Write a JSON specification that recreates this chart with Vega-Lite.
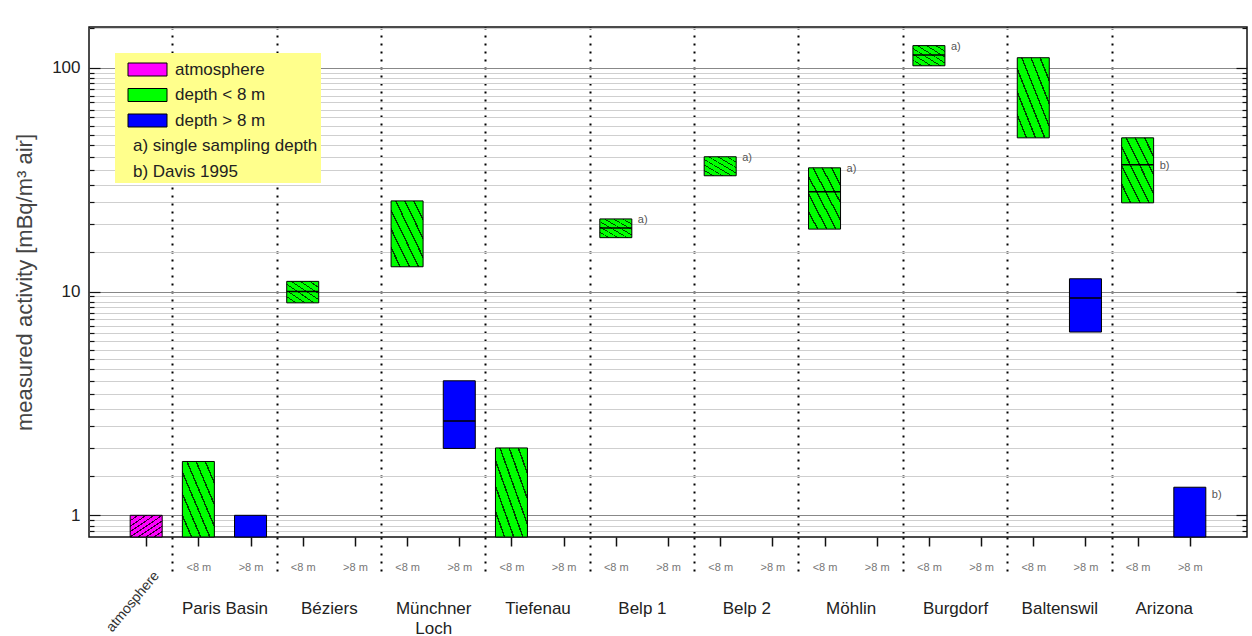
{
  "$schema": "https://vega.github.io/schema/vega-lite/v6.json",
  "width": 1158,
  "height": 510,
  "autosize": "none",
  "padding": {"left": 89, "top": 27, "right": 5, "bottom": 99},
  "background": "white",
  "config": {
    "font": "Liberation Sans",
    "view": {"stroke": "#111", "strokeWidth": 1.5},
    "axis": {"labelFont": "Liberation Sans", "titleFont": "Liberation Sans"},
    "legend": {"labelFont": "Liberation Sans"}
  },
  "data": {
    "values": [
      {"slot": 0, "site": "atmosphere", "type": "atmosphere", "low": 0.8, "high": 1.0, "median": null, "note": null, "note_y": null},
      {"slot": 1, "site": "Paris Basin", "type": "depth < 8 m", "low": 0.8, "high": 1.74, "median": null, "note": null, "note_y": null},
      {"slot": 2, "site": "Paris Basin", "type": "depth > 8 m", "low": 0.8, "high": 1.0, "median": null, "note": null, "note_y": null},
      {"slot": 3, "site": "Béziers", "type": "depth < 8 m", "low": 8.9, "high": 11.1, "median": 10.0, "note": null, "note_y": null},
      {"slot": 5, "site": "Münchner Loch", "type": "depth < 8 m", "low": 12.9, "high": 25.4, "median": null, "note": null, "note_y": null},
      {"slot": 6, "site": "Münchner Loch", "type": "depth > 8 m", "low": 1.99, "high": 3.99, "median": 2.64, "note": null, "note_y": null},
      {"slot": 7, "site": "Tiefenau", "type": "depth < 8 m", "low": 0.8, "high": 2.0, "median": null, "note": null, "note_y": null},
      {"slot": 9, "site": "Belp 1", "type": "depth < 8 m", "low": 17.4, "high": 21.1, "median": 19.2, "note": "a)", "note_y": 21.1},
      {"slot": 11, "site": "Belp 2", "type": "depth < 8 m", "low": 32.9, "high": 40.0, "median": null, "note": "a)", "note_y": 40.0},
      {"slot": 13, "site": "Möhlin", "type": "depth < 8 m", "low": 19.0, "high": 35.7, "median": 27.9, "note": "a)", "note_y": 35.7},
      {"slot": 15, "site": "Burgdorf", "type": "depth < 8 m", "low": 102, "high": 125.5, "median": 114, "note": "a)", "note_y": 125.5},
      {"slot": 17, "site": "Baltenswil", "type": "depth < 8 m", "low": 48.6, "high": 110.8, "median": null, "note": null, "note_y": null},
      {"slot": 18, "site": "Baltenswil", "type": "depth > 8 m", "low": 6.59, "high": 11.4, "median": 9.35, "note": null, "note_y": null},
      {"slot": 19, "site": "Arizona", "type": "depth < 8 m", "low": 24.9, "high": 48.6, "median": 36.8, "note": "b)", "note_y": 36.8},
      {"slot": 20, "site": "Arizona", "type": "depth > 8 m", "low": 0.8, "high": 1.335, "median": null, "note": "b)", "note_y": 1.25}
    ]
  },
  "resolve": {"axis": {"x": "independent", "y": "independent"}},
  "layer": [
    {
      "mark": {"type": "bar", "size": 32, "orient": "vertical", "stroke": "#000", "strokeWidth": 1},
      "encoding": {
        "x": {
          "field": "slot", "type": "quantitative",
          "scale": {"domain": [-1, 21], "nice": false, "zero": false},
          "axis": {
            "orient": "bottom", "title": null,
            "values": [0],
            "labelExpr": "'atmosphere'",
            "domain": false, "grid": false, "ticks": false,
            "labelAngle": -50, "labelAlign": "right", "labelBaseline": "middle",
            "labelFontSize": 14, "labelColor": "#333",
            "labelPadding": 36, "labelOffset": 10, "labelFlush": false, "labelOverlap": false
          }
        },
        "y": {
          "field": "low", "type": "quantitative",
          "scale": {"type": "log", "domain": [0.8, 152], "nice": false, "zero": false},
          "axis": {
            "orient": "left",
            "title": "measured activity [mBq/m³ air]",
            "titleFontSize": 22, "titleFontWeight": "normal", "titleColor": "#444", "titlePadding": 15,
            "values": [0.85,0.9,0.95,1,1.5,2,2.5,3,3.5,4,4.5,5,5.5,6,6.5,7,7.5,8,8.5,9,9.5,10,15,20,25,30,35,40,45,50,55,60,65,70,75,80,85,90,95,100,150],
            "labelExpr": "datum.value == 1 ? '1' : datum.value == 10 ? '10' : datum.value == 100 ? '100' : ''",
            "domain": false,
            "grid": true,
            "gridColor": {"condition": {"test": "datum.value == 1 || datum.value == 10 || datum.value == 100", "value": "#888888"}, "value": "#cfcfcf"},
            "gridWidth": 1,
            "ticks": true,
            "tickSize": {"condition": {"test": "datum.value == 1 || datum.value == 10 || datum.value == 100", "value": -11}, "value": -5},
            "tickColor": "#111", "tickWidth": 1.2,
            "labelFontSize": 17, "labelColor": "#222", "labelPadding": 20, "labelOverlap": false, "labelFlush": false
          }
        },
        "y2": {"field": "high"},
        "color": {
          "field": "type", "type": "nominal",
          "scale": {
            "domain": ["atmosphere", "depth < 8 m", "depth > 8 m", "a) single sampling depth", "b) Davis 1995"],
            "range": ["#ff00ff", "#00ff00", "#0000ff", "transparent", "transparent"]
          },
          "legend": {
            "orient": "none", "legendX": 26, "legendY": 26, "title": null,
            "fillColor": "#ffff8c", "padding": 3, "rowPadding": 3.5,
            "symbolType": "M-1.5,-0.5L1.5,-0.5L1.5,0.5L-1.5,0.5Z", "symbolSize": 676,
            "symbolStrokeColor": "#000", "symbolStrokeWidth": 1, "symbolOffset": 16,
            "labelOffset": 14, "labelAlign": "left", "labelFontSize": 17, "labelColor": "#222", "labelLimit": 400,
            "encode": {
              "symbols": {"update": {"stroke": {"signal": "datum.index >= 3 ? 'transparent' : '#000'"}}},
              "labels": {"update": {"dx": {"signal": "datum.index >= 3 ? -42 : 0"}}}
            }
          }
        }
      }
    },
    {
      "transform": [{"filter": "datum.type == 'depth < 8 m'"}],
      "mark": {
        "type": "bar", "size": 32, "orient": "vertical", "strokeWidth": 0,
        "fill": {
          "gradient": "linear", "x1": 0, "y1": 1, "x2": 1, "y2": 0,
          "stops": [
            {"offset": 0, "color": "rgba(0,0,0,0)"},
            {"offset": 0.131, "color": "rgba(0,0,0,0)"}, {"offset": 0.131, "color": "rgba(0,0,0,0.75)"}, {"offset": 0.155, "color": "rgba(0,0,0,0.75)"}, {"offset": 0.155, "color": "rgba(0,0,0,0)"},
            {"offset": 0.274, "color": "rgba(0,0,0,0)"}, {"offset": 0.274, "color": "rgba(0,0,0,0.75)"}, {"offset": 0.298, "color": "rgba(0,0,0,0.75)"}, {"offset": 0.298, "color": "rgba(0,0,0,0)"},
            {"offset": 0.417, "color": "rgba(0,0,0,0)"}, {"offset": 0.417, "color": "rgba(0,0,0,0.75)"}, {"offset": 0.441, "color": "rgba(0,0,0,0.75)"}, {"offset": 0.441, "color": "rgba(0,0,0,0)"},
            {"offset": 0.559, "color": "rgba(0,0,0,0)"}, {"offset": 0.559, "color": "rgba(0,0,0,0.75)"}, {"offset": 0.583, "color": "rgba(0,0,0,0.75)"}, {"offset": 0.583, "color": "rgba(0,0,0,0)"},
            {"offset": 0.702, "color": "rgba(0,0,0,0)"}, {"offset": 0.702, "color": "rgba(0,0,0,0.75)"}, {"offset": 0.726, "color": "rgba(0,0,0,0.75)"}, {"offset": 0.726, "color": "rgba(0,0,0,0)"},
            {"offset": 0.845, "color": "rgba(0,0,0,0)"}, {"offset": 0.845, "color": "rgba(0,0,0,0.75)"}, {"offset": 0.869, "color": "rgba(0,0,0,0.75)"}, {"offset": 0.869, "color": "rgba(0,0,0,0)"},
            {"offset": 1, "color": "rgba(0,0,0,0)"}
          ]
        }
      },
      "encoding": {
        "x": {
          "field": "slot", "type": "quantitative",
          "scale": {"domain": [-1, 21], "nice": false, "zero": false},
          "axis": {
            "orient": "bottom", "title": null,
            "values": [0,1,2,3,4,5,6,7,8,9,10,11,12,13,14,15,16,17,18,19,20],
            "labelExpr": "datum.value == 0 ? '' : (datum.value % 2 == 1 ? '<8 m' : '>8 m')",
            "domain": false, "grid": false,
            "ticks": true, "tickSize": 9, "tickColor": "#111", "tickWidth": 1.5,
            "labelFontSize": 11, "labelColor": "#777", "labelBaseline": "middle", "labelAngle": 0,
            "labelPadding": 21, "labelFlush": false, "labelOverlap": false
          }
        },
        "y": {"field": "low", "type": "quantitative", "scale": {"type": "log", "domain": [0.8, 152], "nice": false, "zero": false}, "axis": null},
        "y2": {"field": "high"}
      }
    },
    {
      "transform": [{"filter": "datum.type == 'atmosphere'"}],
      "mark": {
        "type": "bar", "size": 32, "orient": "vertical", "strokeWidth": 0,
        "fill": {
          "gradient": "linear", "x1": 0, "y1": 0, "x2": 1, "y2": 1,
          "stops": [
            {"offset": 0, "color": "rgba(0,0,0,0)"},
            {"offset": 0.11, "color": "rgba(0,0,0,0)"}, {"offset": 0.11, "color": "rgba(0,0,0,0.8)"}, {"offset": 0.14, "color": "rgba(0,0,0,0.8)"}, {"offset": 0.14, "color": "rgba(0,0,0,0)"},
            {"offset": 0.235, "color": "rgba(0,0,0,0)"}, {"offset": 0.235, "color": "rgba(0,0,0,0.8)"}, {"offset": 0.265, "color": "rgba(0,0,0,0.8)"}, {"offset": 0.265, "color": "rgba(0,0,0,0)"},
            {"offset": 0.36, "color": "rgba(0,0,0,0)"}, {"offset": 0.36, "color": "rgba(0,0,0,0.8)"}, {"offset": 0.39, "color": "rgba(0,0,0,0.8)"}, {"offset": 0.39, "color": "rgba(0,0,0,0)"},
            {"offset": 0.485, "color": "rgba(0,0,0,0)"}, {"offset": 0.485, "color": "rgba(0,0,0,0.8)"}, {"offset": 0.515, "color": "rgba(0,0,0,0.8)"}, {"offset": 0.515, "color": "rgba(0,0,0,0)"},
            {"offset": 0.61, "color": "rgba(0,0,0,0)"}, {"offset": 0.61, "color": "rgba(0,0,0,0.8)"}, {"offset": 0.64, "color": "rgba(0,0,0,0.8)"}, {"offset": 0.64, "color": "rgba(0,0,0,0)"},
            {"offset": 0.735, "color": "rgba(0,0,0,0)"}, {"offset": 0.735, "color": "rgba(0,0,0,0.8)"}, {"offset": 0.765, "color": "rgba(0,0,0,0.8)"}, {"offset": 0.765, "color": "rgba(0,0,0,0)"},
            {"offset": 0.86, "color": "rgba(0,0,0,0)"}, {"offset": 0.86, "color": "rgba(0,0,0,0.8)"}, {"offset": 0.89, "color": "rgba(0,0,0,0.8)"}, {"offset": 0.89, "color": "rgba(0,0,0,0)"},
            {"offset": 1, "color": "rgba(0,0,0,0)"}
          ]
        }
      },
      "encoding": {
        "x": {"field": "slot", "type": "quantitative", "scale": {"domain": [-1, 21], "nice": false, "zero": false}, "axis": null},
        "y": {"field": "low", "type": "quantitative", "scale": {"type": "log", "domain": [0.8, 152], "nice": false, "zero": false}, "axis": null},
        "y2": {"field": "high"}
      }
    },
    {
      "transform": [{"filter": "datum.median != null"}],
      "mark": {"type": "tick", "orient": "horizontal", "size": 32, "thickness": 1.5, "color": "#000", "opacity": 1},
      "encoding": {
        "x": {
          "field": "slot", "type": "quantitative",
          "scale": {"domain": [-1, 21], "nice": false, "zero": false},
          "axis": {
            "orient": "bottom", "title": null,
            "values": [1.5,3.5,5.5,7.5,9.5,11.5,13.5,15.5,17.5,19.5],
            "labelExpr": "datum.value == 5.5 ? ['Münchner', 'Loch'] : ['Paris Basin','Béziers','','Tiefenau','Belp 1','Belp 2','Möhlin','Burgdorf','Baltenswil','Arizona'][(datum.value - 1.5) / 2]",
            "domain": false, "grid": false, "ticks": false,
            "labelFontSize": 17, "labelColor": "#222", "labelBaseline": "top",
            "labelPadding": 63, "labelLineHeight": 20, "labelFlush": false, "labelOverlap": false, "labelAngle": 0
          }
        },
        "y": {
          "field": "median", "type": "quantitative",
          "scale": {"type": "log", "domain": [0.8, 152], "nice": false, "zero": false},
          "axis": {
            "orient": "right", "title": null,
            "values": [0.85,0.9,0.95,1,1.5,2,2.5,3,3.5,4,4.5,5,5.5,6,6.5,7,7.5,8,8.5,9,9.5,10,15,20,25,30,35,40,45,50,55,60,65,70,75,80,85,90,95,100,150],
            "labels": false, "domain": false, "grid": false, "ticks": true,
            "tickSize": {"condition": {"test": "datum.value == 1 || datum.value == 10 || datum.value == 100", "value": -11}, "value": -5},
            "tickColor": "#111", "tickWidth": 1.2
          }
        }
      }
    },
    {
      "transform": [{"filter": "datum.note != null"}],
      "mark": {"type": "text", "align": "left", "baseline": "middle", "dx": 22, "dy": 1, "fontSize": 11, "color": "#555"},
      "encoding": {
        "x": {
          "field": "slot", "type": "quantitative",
          "scale": {"domain": [-1, 21], "nice": false, "zero": false},
          "axis": {
            "orient": "bottom", "title": null,
            "values": [0.5,2.5,4.5,6.5,8.5,10.5,12.5,14.5,16.5,18.5],
            "labels": false, "domain": false,
            "grid": true, "gridColor": "#000", "gridDash": [2, 6], "gridWidth": 2, "gridOpacity": 1,
            "ticks": true, "tickSize": 38, "tickColor": "#000", "tickDash": [2, 6], "tickWidth": 2
          }
        },
        "y": {
          "field": "note_y", "type": "quantitative",
          "scale": {"type": "log", "domain": [0.8, 152], "nice": false, "zero": false},
          "axis": null
        },
        "text": {"field": "note"}
      }
    }
  ]
}
